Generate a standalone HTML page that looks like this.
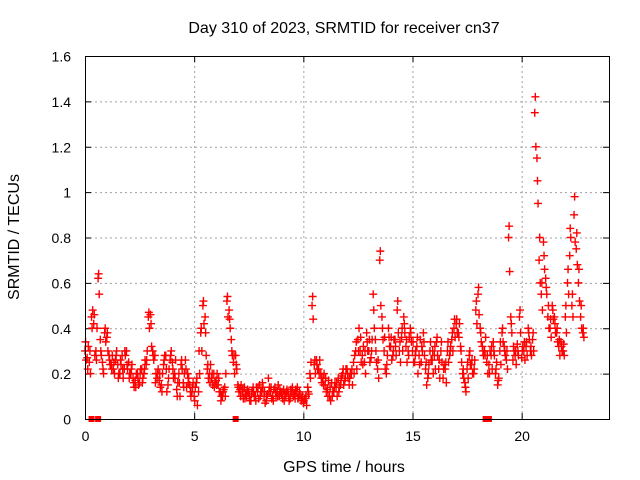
<!DOCTYPE html>
<html><head><meta charset="utf-8"><style>
body{margin:0;background:#fff}
svg{display:block;font-family:"Liberation Sans",sans-serif}
</style></head><body>
<svg id="c" width="640" height="480"></svg>
<script>
const startHour = 0.0, stepHour = 0.1;
const srmtidA = [
0.30,0.27,0.25,0.45,0.42,0.30,0.62,0.35,0.25,0.38,
0.36,0.28,0.24,0.22,0.26,0.24,0.20,0.28,0.22,0.30,
0.25,0.20,0.18,0.17,0.20,0.16,0.22,0.20,0.24,0.45,
0.46,0.30,0.28,0.18,0.17,0.15,0.24,0.28,0.15,0.26,
0.25,0.20,0.13,0.20,0.24,0.16,0.26,0.20,0.15,0.12,
0.10,0.16,0.12,0.38,0.50,0.45,0.22,0.20,0.18,0.20,
0.17,0.15,0.12,0.10,0.14,0.52,0.48,0.35,0.25,0.28,
0.15,0.13,0.12,0.14,0.10,0.12,0.08,0.14,0.10,0.12,
0.15,0.12,0.10,0.08,0.18,0.12,0.10,0.14,0.12,0.10,
0.11,0.13,0.10,0.12,0.09,0.14,0.11,0.12,0.10,0.08,
0.07,0.09,0.14,0.20,0.50,0.24,0.26,0.22,0.20,0.18,
0.15,0.13,0.10,0.16,0.12,0.14,0.18,0.15,0.20,0.17,
0.22,0.15,0.20,0.25,0.30,0.35,0.30,0.28,0.25,0.38,
0.30,0.27,0.55,0.35,0.22,0.70,0.45,0.30,0.20,0.40,
0.32,0.28,0.35,0.48,0.30,0.36,0.45,0.32,0.30,0.40,
0.30,0.25,0.32,0.28,0.25,0.38,0.22,0.18,0.30,0.26,
0.28,0.34,0.22,0.30,0.18,0.22,0.30,0.28,0.35,0.40,
0.42,0.38,0.32,0.20,0.16,0.22,0.28,0.24,0.20,0.48,
0.55,0.40,0.32,0.30,0.25,0.24,0.28,0.34,0.20,0.15,
0.30,0.38,0.32,0.26,0.80,0.45,0.26,0.28,0.33,0.45,
0.27,0.30,0.32,0.40,0.30,0.35,1.35,1.15,0.70,0.55,
0.78,0.62,0.45,0.40,0.50,0.45,0.38,0.32,0.34,0.30,
0.45,0.60,0.72,0.50,0.90,0.75,0.60,0.45,0.38];
const srmtidB = [
0.26,0.32,0.20,0.48,0.28,0.40,0.55,0.28,0.20,0.34,
0.30,0.24,0.28,0.20,0.30,0.20,0.24,0.18,0.28,0.22,
0.20,0.24,0.14,0.20,0.15,0.22,0.18,0.26,0.30,0.40,
0.32,0.26,0.20,0.22,0.14,0.20,0.28,0.12,0.22,0.30,
0.18,0.26,0.16,0.10,0.22,0.20,0.14,0.18,0.10,0.16,
0.14,0.06,0.20,0.30,0.42,0.28,0.18,0.24,0.15,0.16,
0.20,0.12,0.10,0.13,0.20,0.45,0.40,0.28,0.20,0.22,
0.12,0.15,0.09,0.11,0.13,0.08,0.12,0.10,0.14,0.09,
0.12,0.14,0.07,0.11,0.14,0.09,0.13,0.10,0.15,0.12,
0.09,0.11,0.13,0.08,0.12,0.10,0.13,0.09,0.11,0.10,
0.09,0.06,0.11,0.25,0.44,0.20,0.22,0.26,0.16,0.20,
0.12,0.17,0.08,0.12,0.16,0.10,0.14,0.19,0.15,0.22,
0.18,0.20,0.15,0.28,0.22,0.40,0.25,0.32,0.20,0.30,
0.25,0.35,0.40,0.25,0.18,0.50,0.35,0.22,0.28,0.32,
0.26,0.35,0.28,0.38,0.25,0.30,0.38,0.25,0.36,0.34,
0.25,0.30,0.20,0.35,0.30,0.28,0.15,0.24,0.26,0.20,
0.22,0.28,0.18,0.25,0.24,0.16,0.25,0.32,0.30,0.36,
0.38,0.42,0.25,0.18,0.12,0.18,0.24,0.20,0.26,0.42,
0.46,0.34,0.28,0.36,0.20,0.30,0.22,0.28,0.25,0.18,
0.24,0.34,0.28,0.22,0.65,0.38,0.30,0.24,0.28,0.38,
0.32,0.26,0.28,0.35,0.28,0.30,1.20,0.95,0.60,0.48,
0.66,0.55,0.40,0.36,0.44,0.38,0.34,0.28,0.30,0.28,
0.38,0.55,0.80,0.45,0.78,0.68,0.52,0.40,0.36];
const srmtidC = [
0.34,0.22,0.30,0.40,0.46,0.26,0.64,0.30,0.22,0.40,
0.38,0.26,0.22,0.25,0.28,0.18,0.26,0.22,0.30,0.24,
0.18,0.22,0.16,0.14,0.18,0.20,0.16,0.22,0.26,0.47,
0.42,0.28,0.16,0.20,0.20,0.12,0.26,0.22,0.18,0.28,
0.22,0.18,0.10,0.16,0.26,0.14,0.22,0.16,0.12,0.14,
0.08,0.18,0.30,0.40,0.52,0.38,0.24,0.16,0.20,0.14,
0.15,0.18,0.08,0.12,0.10,0.54,0.44,0.30,0.28,0.24,
0.14,0.10,0.13,0.09,0.12,0.10,0.11,0.12,0.08,0.14,
0.10,0.16,0.12,0.10,0.12,0.14,0.08,0.12,0.10,0.13,
0.12,0.08,0.12,0.10,0.13,0.11,0.09,0.14,0.12,0.09,
0.08,0.10,0.12,0.18,0.54,0.26,0.24,0.20,0.18,0.15,
0.18,0.10,0.14,0.10,0.14,0.16,0.12,0.17,0.22,0.18,
0.20,0.18,0.22,0.20,0.34,0.30,0.36,0.24,0.30,0.34,
0.35,0.30,0.48,0.30,0.26,0.74,0.40,0.36,0.24,0.36,
0.36,0.30,0.32,0.52,0.34,0.40,0.42,0.35,0.28,0.38,
0.34,0.28,0.36,0.24,0.32,0.34,0.25,0.20,0.34,0.30,
0.32,0.36,0.26,0.34,0.22,0.25,0.34,0.30,0.38,0.44,
0.44,0.36,0.30,0.22,0.14,0.25,0.30,0.26,0.22,0.52,
0.58,0.38,0.30,0.28,0.28,0.20,0.32,0.30,0.22,0.17,
0.34,0.40,0.30,0.30,0.85,0.42,0.32,0.30,0.30,0.48,
0.30,0.34,0.34,0.38,0.32,0.38,1.42,1.05,0.80,0.60,
0.72,0.58,0.50,0.44,0.48,0.42,0.40,0.35,0.32,0.33,
0.50,0.66,0.84,0.55,0.98,0.82,0.66,0.50,0.40];
const zeroHours = [0.3,0.6,6.9,18.35,18.5];
const xTicks = [0,5,10,15,20];
const yTicks = [0,0.2,0.4,0.6,0.8,1,1.2,1.4,1.6];
const yTickLabels = ["0","0.2","0.4","0.6","0.8","1","1.2","1.4","1.6"];

const L=85,R=609,T=56,B=419,XMAX=24,YMAX=1.6;
const sx=v=>L+v/XMAX*(R-L), sy=v=>B-v/YMAX*(B-T);
const svg=document.getElementById('c'), NS='http://www.w3.org/2000/svg';
function mk(tag,a,p){const e=document.createElementNS(NS,tag);for(const k in a)e.setAttribute(k,a[k]);(p||svg).appendChild(e);return e;}

const grid=mk('g',{stroke:'#a0a0a0','stroke-dasharray':'2,3','stroke-width':1});


xTicks.forEach(v=>{if(v>0)mk('line',{x1:sx(v)+.5,x2:sx(v)+.5,y1:T,y2:B},grid);});
yTicks.forEach(v=>{if(v>0&&v<YMAX)mk('line',{x1:L,x2:R,y1:sy(v)+.5,y2:sy(v)+.5},grid);});

const ticks=mk('g',{stroke:'#000','stroke-width':1});


xTicks.forEach((v,i)=>{const x=sx(v)+.5;mk('line',{x1:x,x2:x,y1:B,y2:B-6},ticks);mk('line',{x1:x,x2:x,y1:T,y2:T+6},ticks);
 const t=mk('text',{x:x,y:B+22,'text-anchor':'middle','font-size':14,stroke:'none',fill:'#000'});t.textContent=v;
 
 });
yTicks.forEach((v,i)=>{const y=sy(v)+.5;mk('line',{x1:L,x2:L+6,y1:y,y2:y},ticks);mk('line',{x1:R,x2:R-6,y1:y,y2:y},ticks);
 const t=mk('text',{x:L-14,y:y+5,'text-anchor':'end','font-size':14,stroke:'none',fill:'#000'});t.textContent=yTickLabels[i];
 
 });

function plus(g,x,y,c){mk('path',{d:`M${x-4} ${y}H${x+4}M${x} ${y-4}V${y+4}`,stroke:c,'stroke-width':1.4,fill:'none'},g);}
const ser=mk('g',{});


srmtidA.forEach((v,i)=>{const h=startHour+i*stepHour;plus(ser,sx(h),sy(v),'#ff0000');});
srmtidB.forEach((v,i)=>{const h=startHour+(i+0.5)*stepHour;plus(ser,sx(h),sy(v),'#ff0000');});
srmtidC.forEach((v,i)=>{const h=startHour+(i+0.25)*stepHour;plus(ser,sx(h),sy(v),'#ff0000');});
zeroHours.forEach(h=>{mk('rect',{x:sx(h)-3,y:B-3,width:6,height:6,fill:'#ff0000'},ser);});

const frame=mk('rect',{x:L+.5,y:T+.5,width:R-L,height:B-T,fill:'none',stroke:'#000','stroke-width':1});



function label(txt,a,name){const t=mk('text',Object.assign({'font-size':16,fill:'#000','text-anchor':'middle'},a));t.textContent=txt;
 
 }
label('Day 310 of 2023, SRMTID for receiver cn37',{x:344,y:33},'chart-title');
label('GPS time / hours',{x:344,y:472},'x-axis-title');
label('SRMTID / TECUs',{x:19,y:237,transform:'rotate(-90 19 237)'},'y-axis-title');
</script>
</body></html>
